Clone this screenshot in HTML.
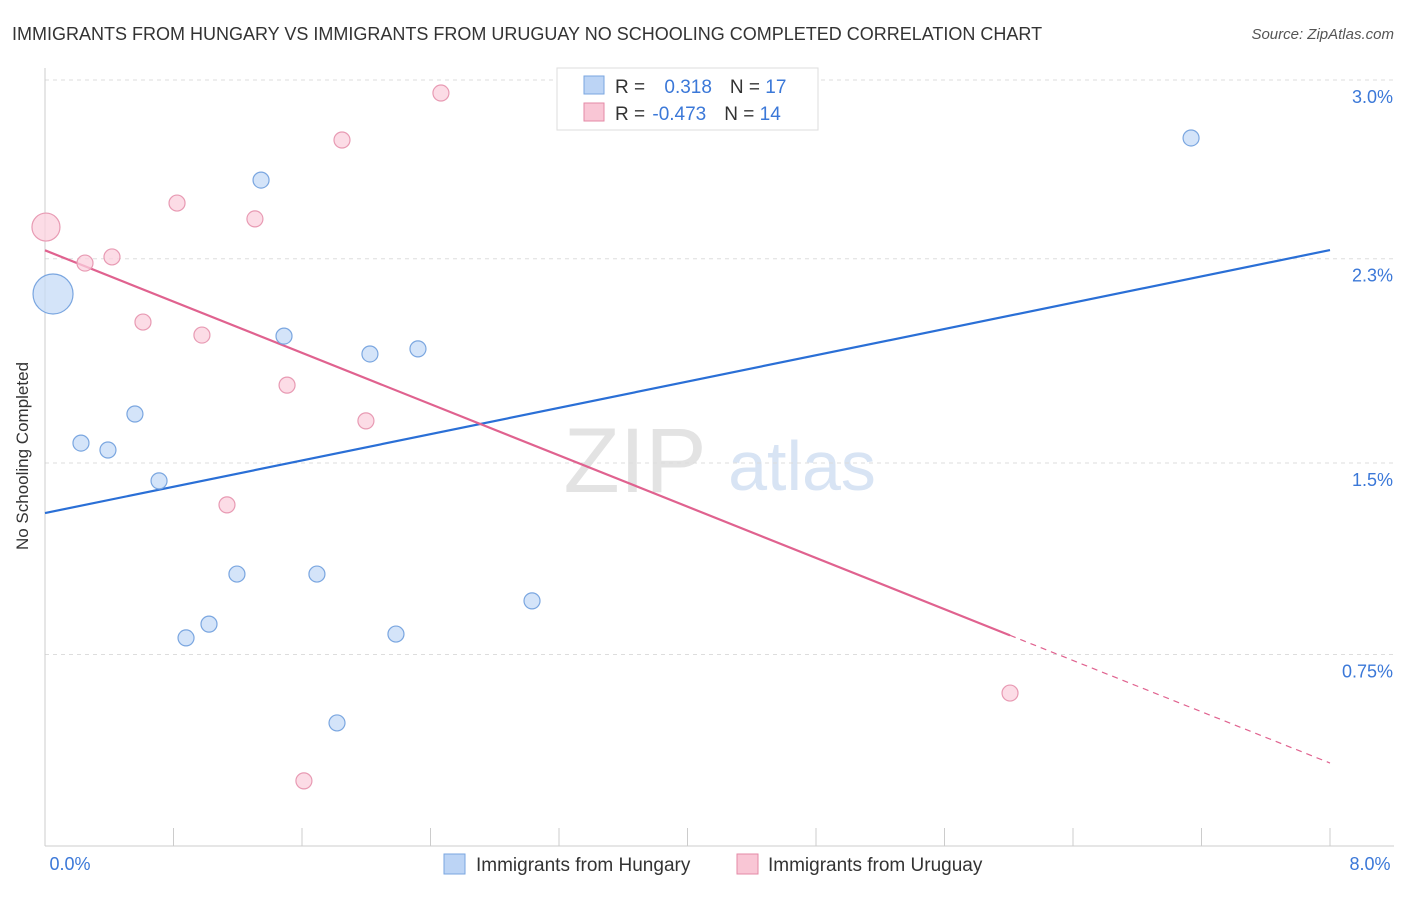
<!DOCTYPE html>
<html><head><meta charset="utf-8"><style>
body{margin:0;background:#fff;font-family:"Liberation Sans",sans-serif;}
svg text{font-family:"Liberation Sans",sans-serif;}
</style></head><body>
<svg id="chart" width="1406" height="892">
<text x="12" y="40" font-size="18" fill="#333">IMMIGRANTS FROM HUNGARY VS IMMIGRANTS FROM URUGUAY NO SCHOOLING COMPLETED CORRELATION CHART</text>
<text x="1394" y="39" font-size="15" fill="#555" font-style="italic" text-anchor="end">Source: ZipAtlas.com</text>
<text x="28" y="456" font-size="17" fill="#333" text-anchor="middle" transform="rotate(-90 28 456)">No Schooling Completed</text>
<g>
<text x="635" y="492" font-size="92" fill="#e3e3e3" text-anchor="middle" font-family="Liberation Serif">ZIP</text>
<text x="802" y="490" font-size="70" fill="#d8e4f4" text-anchor="middle">atlas</text>
</g>
<g id="grid"></g><g id="axes"></g><g id="lines"></g><g id="points"></g>
<g>
<rect x="557" y="68" width="261" height="62" fill="#fff" stroke="#ddd"/>
<rect x="584" y="76" width="20" height="18" fill="#bcd4f5" stroke="#7aa6e0"/>
<text x="615" y="93" font-size="19" fill="#333">R = <tspan fill="#3b78d8" dx="14">0.318</tspan><tspan dx="18" fill="#333">N = </tspan><tspan fill="#3b78d8">17</tspan></text>
<rect x="584" y="103" width="20" height="18" fill="#f9c6d5" stroke="#e48aa6"/>
<text x="615" y="120" font-size="19" fill="#333">R = <tspan fill="#3b78d8" dx="2">-0.473</tspan><tspan dx="18" fill="#333">N = </tspan><tspan fill="#3b78d8">14</tspan></text>
</g>
<g>
<rect x="444" y="854" width="21" height="20" fill="#bcd4f5" stroke="#7aa6e0"/>
<text x="476" y="871" font-size="19" fill="#333">Immigrants from Hungary</text>
<rect x="737" y="854" width="21" height="20" fill="#f9c6d5" stroke="#e48aa6"/>
<text x="768" y="871" font-size="19" fill="#333">Immigrants from Uruguay</text>
</g>
</svg>
<script>
const yTicks=[0.75,1.5,2.3,3.0];
const yTickLabels=["0.75%","1.5%","2.3%","3.0%"];
const xTickLabels=["0.0%","8.0%"];
const hungaryX=[0.05,0.224,0.392,0.560,0.710,0.878,1.021,1.195,1.345,1.488,1.693,1.818,2.023,2.185,2.322,3.032,7.135];
const hungaryY=[2.162,1.578,1.551,1.692,1.430,0.815,0.869,1.065,2.608,1.997,1.065,0.482,1.927,0.830,1.947,0.960,2.773];
const hungaryR=[20,8,8,8,8,8,8,8,8,8,8,8,8,8,8,8,8];
const uruguayX=[0.006,0.249,0.417,0.610,0.822,0.977,1.133,1.307,1.507,1.612,1.849,1.998,2.465,6.008];
const uruguayY=[2.424,2.283,2.307,2.052,2.518,2.001,1.336,2.456,1.805,0.255,2.765,1.665,2.949,0.599];
const uruguayR=[14,8,8,8,8,8,8,8,8,8,8,8,8,8];
const hungaryTrend=[1.304,2.334];
const uruguayTrend=[2.333,0.325];
const uruguaySolidEnd=6.008;
const NS="http://www.w3.org/2000/svg";
const X=v=>45+v/8*1285, Y=v=>846-v*255.33;
function mk(tag,attrs,parent){const e=document.createElementNS(NS,tag);for(const k in attrs)e.setAttribute(k,attrs[k]);document.getElementById(parent).appendChild(e);return e;}
yTicks.forEach((t,i)=>{
 const l=mk('line',{x1:45,x2:1394,y1:Y(t),y2:Y(t),stroke:'#ddd','stroke-dasharray':'4,4'},'grid');
 
 
 const tx=mk('text',{x:1393,y:Y(t)+23,'font-size':18,fill:'#3b78d8','text-anchor':'end'},'grid');
 tx.textContent=yTickLabels[i];
 
 
});
const ax=mk('line',{x1:45,x2:1394,y1:846,y2:846,stroke:'#ccc'},'axes');


const ay=mk('line',{x1:45,x2:45,y1:68,y2:846,stroke:'#ccc'},'axes');


for(let i=0;i<=10;i++){const x=45+i*128.5;
 const t=mk('line',{x1:x,x2:x,y1:828,y2:846,stroke:'#ccc'},'axes');
 
 }
[[0,70],[8,1370]].forEach((p,i)=>{
 const t=mk('text',{x:p[1],y:870,'font-size':18,fill:'#3b78d8','text-anchor':'middle'},'axes');
 t.textContent=xTickLabels[i];
 
 });
const bl=mk('line',{x1:X(0),y1:Y(hungaryTrend[0]),x2:X(8),y2:Y(hungaryTrend[1]),stroke:'#2a6fd6','stroke-width':2.2},'lines');


const pm=(uruguayTrend[1]-uruguayTrend[0])/8;
const pl=mk('line',{x1:X(0),y1:Y(uruguayTrend[0]),x2:X(uruguaySolidEnd),y2:Y(uruguayTrend[0]+pm*uruguaySolidEnd),stroke:'#e0628f','stroke-width':2.2},'lines');


const pd=mk('line',{x1:X(uruguaySolidEnd),y1:Y(uruguayTrend[0]+pm*uruguaySolidEnd),x2:X(8),y2:Y(uruguayTrend[1]),stroke:'#e0628f','stroke-width':1.2,'stroke-dasharray':'6,5'},'lines');


hungaryX.forEach((v,i)=>{
 const c=mk('circle',{cx:X(v),cy:Y(hungaryY[i]),r:hungaryR[i],fill:'#c6dbf7','fill-opacity':0.75,stroke:'#7aa6e0','stroke-width':1.2},'points');
 
 });
uruguayX.forEach((v,i)=>{
 const c=mk('circle',{cx:X(v),cy:Y(uruguayY[i]),r:uruguayR[i],fill:'#fbd0dd','fill-opacity':0.75,stroke:'#e89ab3','stroke-width':1.2},'points');
 
 });
</script>
</body></html>
